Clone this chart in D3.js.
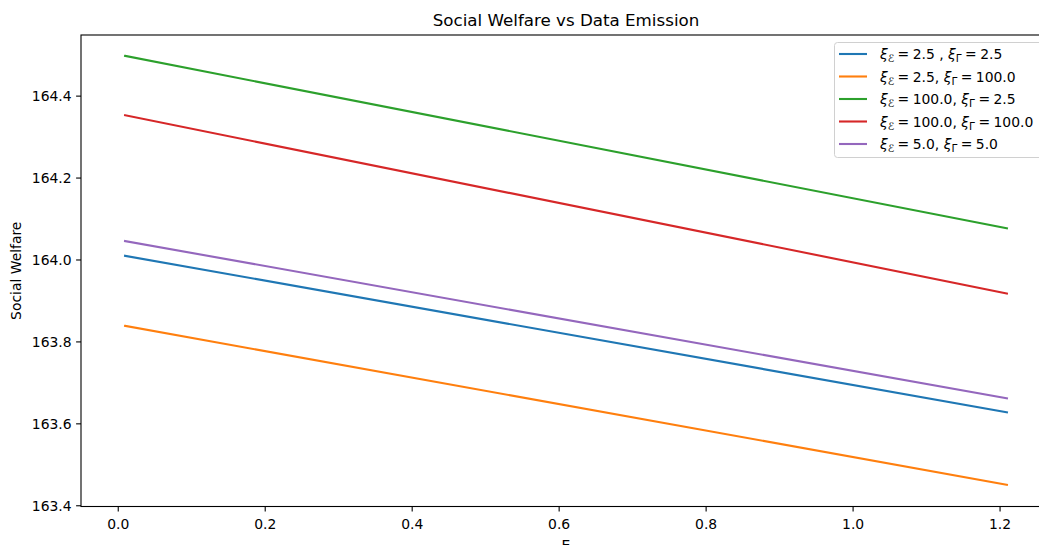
<!DOCTYPE html>
<html>
<head>
    <title>Social Welfare vs Data Emission</title>
    <meta charset="utf-8">
    <style>
        body { margin: 0; background: #fff; }
        svg { display: block; font-family: "DejaVu Sans", sans-serif; }
        .tick text { font-family: "DejaVu Sans", sans-serif; font-size: 13.9px; fill: #000; }
        .tick line { stroke: #000; stroke-width: 1.1px; }
        .domain { display: none; }
        path.series { fill: none; stroke-width: 2.1px; stroke-linecap: square; }
    </style>
    <script src="https://cdn.jsdelivr.net/npm/d3@7"></script>
</head>
<body>
    <svg width="1039" height="545"></svg>
    <script>
        // Data (line endpoints)
        var xValues = [0.01, 1.21];
        var blueValues = [164.009, 163.627];
        var orangeValues = [163.838, 163.450];
        var greenValues = [164.497, 164.076];
        var redValues = [164.352, 163.917];
        var purpleValues = [164.045, 163.661];
        var seriesColors = ["#1f77b4", "#ff7f0e", "#2ca02c", "#d62728", "#9467bd"];
        // legend labels: [xi_E value, xi_Gamma value, extra space before comma]
        var legendLabels = [["2.5", "2.5", true], ["2.5", "100.0", false], ["100.0", "2.5", false], ["100.0", "100.0", false], ["5.0", "5.0", false]];
        var xTicks = [0.0, 0.2, 0.4, 0.6, 0.8, 1.0, 1.2];
        var yTicks = [163.4, 163.6, 163.8, 164.0, 164.2, 164.4];

        var allSeries = [blueValues, orangeValues, greenValues, redValues, purpleValues];

        var svg = d3.select("svg");
        var plotLeft = 81, plotRight = 1051, plotTop = 35, plotBottom = 506.5;

        var x = d3.scaleLinear().domain([-0.05, 1.27]).range([plotLeft, plotRight]);
        var y = d3.scaleLinear().domain([163.397, 164.548]).range([plotBottom, plotTop]);

        var line = d3.line()
            .x(function (d, i) { return x(xValues[i]); })
            .y(function (d) { return y(d); });

        svg.append("g")
            .selectAll("path")
            .data(allSeries)
            .enter().append("path")
            .attr("class", "series")
            .attr("stroke", function (d, i) { return seriesColors[i]; })
            .attr("d", line);

        // axes
        svg.append("g")
            .attr("transform", "translate(0," + plotBottom + ")")
            .call(d3.axisBottom(x).tickValues(xTicks).tickFormat(d3.format(".1f")).tickSizeInner(4.9).tickPadding(4.5))
            .selectAll("text").attr("dy", "0.95em");

        svg.append("g")
            .attr("transform", "translate(" + plotLeft + ",0)")
            .call(d3.axisLeft(y).tickValues(yTicks).tickFormat(d3.format(".1f")).tickSizeInner(4.9).tickPadding(4.5))
            .selectAll("text").attr("dy", "0.36em");

        // spines
        svg.append("rect")
            .attr("x", plotLeft).attr("y", plotTop)
            .attr("width", plotRight - plotLeft).attr("height", plotBottom - plotTop)
            .attr("fill", "none").attr("stroke", "#000").attr("stroke-width", 1.1);

        // title and labels
        svg.append("text")
            .attr("x", (plotLeft + plotRight) / 2).attr("y", 26)
            .attr("text-anchor", "middle")
            .attr("font-size", 16.7)
            .text("Social Welfare vs Data Emission");

        svg.append("text")
            .attr("transform", "translate(21," + (plotTop + plotBottom) / 2 + ") rotate(-90)")
            .attr("text-anchor", "middle")
            .attr("font-size", 13.9)
            .text("Social Welfare");

        svg.append("text")
            .attr("x", (plotLeft + plotRight) / 2).attr("y", 550)
            .attr("text-anchor", "middle")
            .attr("font-size", 13.9)
            .text("E");

        // legend
        var legend = svg.append("g");
        legend.append("rect")
            .attr("x", 834.5).attr("y", 42.5)
            .attr("width", 210).attr("height", 115)
            .attr("rx", 3)
            .attr("fill", "#fff").attr("fill-opacity", 0.8)
            .attr("stroke", "#d0d0d0").attr("stroke-width", 1);

        var rows = legend.selectAll("g.row")
            .data(legendLabels)
            .enter().append("g")
            .attr("class", "row")
            .attr("transform", function (d, i) { return "translate(0," + (54 + i * 22.5) + ")"; });

        rows.append("line")
            .attr("x1", 839).attr("x2", 867)
            .attr("stroke", function (d, i) { return seriesColors[i]; })
            .attr("stroke-width", 2.1);

        var label = rows.append("text")
            .attr("x", 880).attr("y", 5)
            .attr("font-size", 13.9);

        label.each(function (d) {
            var t = d3.select(this);
            t.append("tspan").attr("font-style", "italic").text("\u03BE");
            t.append("tspan").attr("font-size", 10.5).attr("dy", 3).attr("font-style", "italic").text("\u2130");
            t.append("tspan").attr("dy", -3).text("\u2005=\u2005" + d[0] + (d[2] ? " , " : ", "));
            t.append("tspan").attr("font-style", "italic").text("\u03BE");
            t.append("tspan").attr("font-size", 10.5).attr("dy", 3).text("\u0393");
            t.append("tspan").attr("dy", -3).text("\u2005=\u2005" + d[1]);
        });
    </script>
</body>
</html>
